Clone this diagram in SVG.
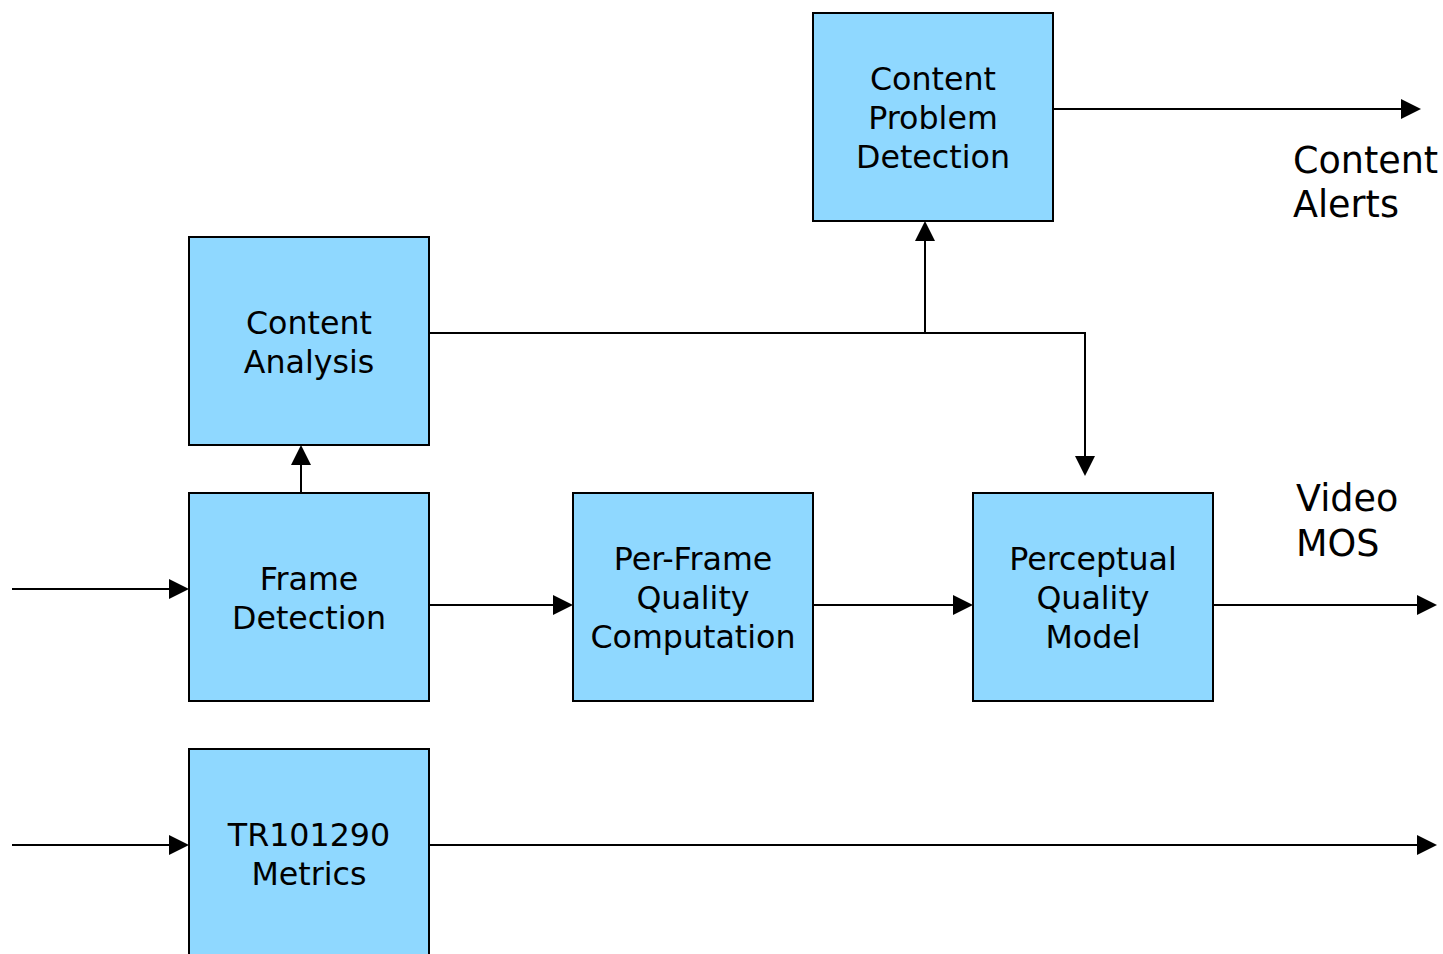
<svg xmlns="http://www.w3.org/2000/svg" width="1443" height="954" viewBox="0 0 1443 954">
  <style>
    .box { fill: #8fd8ff; stroke: #000; stroke-width: 2; }
    .lbl { font-family: "DejaVu Sans", Verdana, sans-serif; font-size: 31.7px; fill: #000; text-anchor: middle; }
    .out { font-family: "DejaVu Sans", Verdana, sans-serif; font-size: 36.5px; fill: #000; }
    .wire { fill: none; stroke: #000; stroke-width: 2; }
    .head { fill: #000; }
  </style>
  <rect width="1443" height="954" fill="#fff"/>

  <g id="connectors">
    <!-- inputs -->
    <path class="wire" d="M12 589 H170"/>
    <polygon class="head" points="189,589 169,579 169,599"/>
    <path class="wire" d="M12 845 H170"/>
    <polygon class="head" points="189,845 169,835 169,855"/>
    <!-- main chain -->
    <path class="wire" d="M429 605 H554"/>
    <polygon class="head" points="573,605 553,595 553,615"/>
    <path class="wire" d="M813 605 H954"/>
    <polygon class="head" points="973,605 953,595 953,615"/>
    <path class="wire" d="M1213 605 H1418"/>
    <polygon class="head" points="1437,605 1417,595 1417,615"/>
    <!-- TR101290 output -->
    <path class="wire" d="M429 845 H1418"/>
    <polygon class="head" points="1437,845 1417,835 1417,855"/>
    <!-- frame detection to content analysis -->
    <path class="wire" d="M301 493 V464"/>
    <polygon class="head" points="301,445 291,465 311,465"/>
    <!-- content analysis fan-out -->
    <path class="wire" d="M429 333 H1085 V457"/>
    <polygon class="head" points="1085,476 1075,456 1095,456"/>
    <path class="wire" d="M925 333 V240"/>
    <polygon class="head" points="925,221 915,241 935,241"/>
    <!-- content alerts output -->
    <path class="wire" d="M1053 109 H1402"/>
    <polygon class="head" points="1421,109 1401,99 1401,119"/>
  </g>

  <g id="content-problem-detection">
    <rect class="box" x="813" y="13" width="240" height="208"/>
    <text class="lbl" x="933" y="90">Content</text>
    <text class="lbl" x="933" y="129">Problem</text>
    <text class="lbl" x="933" y="168">Detection</text>
  </g>

  <g id="content-analysis">
    <rect class="box" x="189" y="237" width="240" height="208"/>
    <text class="lbl" x="309" y="334">Content</text>
    <text class="lbl" x="309" y="373">Analysis</text>
  </g>

  <g id="frame-detection">
    <rect class="box" x="189" y="493" width="240" height="208"/>
    <text class="lbl" x="309" y="590">Frame</text>
    <text class="lbl" x="309" y="629">Detection</text>
  </g>

  <g id="per-frame-quality">
    <rect class="box" x="573" y="493" width="240" height="208"/>
    <text class="lbl" x="693" y="570">Per-Frame</text>
    <text class="lbl" x="693" y="609">Quality</text>
    <text class="lbl" x="693" y="648">Computation</text>
  </g>

  <g id="perceptual-quality-model">
    <rect class="box" x="973" y="493" width="240" height="208"/>
    <text class="lbl" x="1093" y="570">Perceptual</text>
    <text class="lbl" x="1093" y="609">Quality</text>
    <text class="lbl" x="1093" y="648">Model</text>
  </g>

  <g id="tr101290-metrics">
    <rect class="box" x="189" y="749" width="240" height="215"/>
    <text class="lbl" x="309" y="846">TR101290</text>
    <text class="lbl" x="309" y="885">Metrics</text>
  </g>

  <g id="content-alerts-label">
    <text class="out" x="1293" y="173">Content</text>
    <text class="out" x="1293" y="217">Alerts</text>
  </g>

  <g id="video-mos-label">
    <text class="out" x="1296" y="511">Video</text>
    <text class="out" x="1296" y="556">MOS</text>
  </g>
</svg>
